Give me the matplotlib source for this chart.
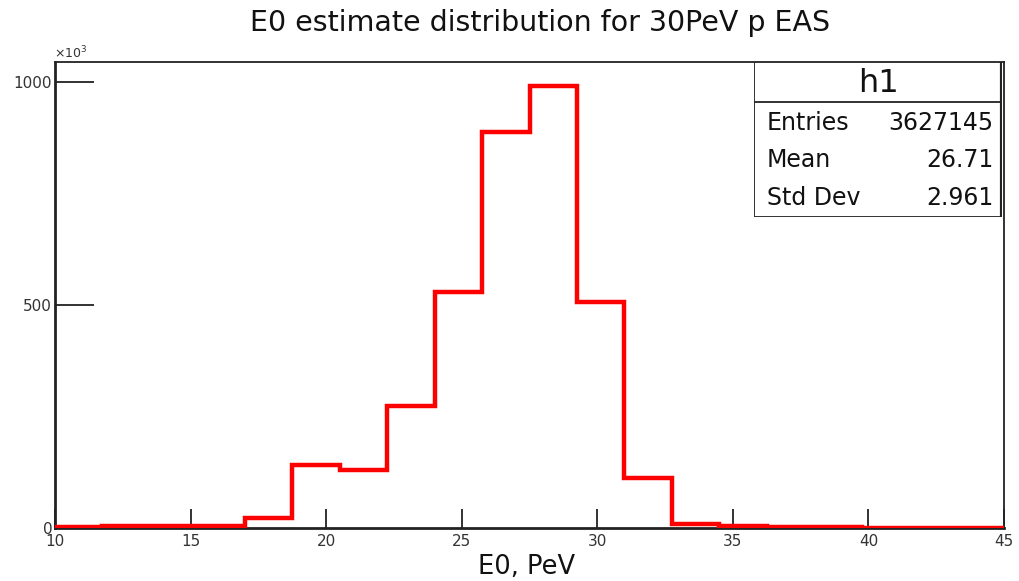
import numpy as np
import matplotlib
matplotlib.use("Agg")
import matplotlib.pyplot as plt
from matplotlib.patches import Rectangle

plt.rcParams['font.family'] = ['DejaVu Sans']

# histogram h1: 20 bins from 10 to 45 PeV, counts in units of 10^3
bin_edges = np.linspace(10, 45, 21)
counts_k = [2, 5, 4, 4, 22, 141, 130, 273, 529, 888,
            991, 507, 112, 9, 4, 2, 2, 1, 0.5, 0.3]
x_ticks = [10, 15, 20, 25, 30, 35, 40, 45]
y_ticks = [0, 500, 1000]
stats_names = ["Entries", "Mean", "Std Dev"]
stats_values = ["3627145", "26.71", "2.961"]

W, H = 1019, 581
fig = plt.figure(figsize=(W / 100, H / 100), dpi=100)

# frame position in pixels
left, right, top, bottom = 55, 1004, 62, 528
ax = fig.add_axes([left / W, 1 - bottom / H, (right - left) / W, (bottom - top) / H])

ax.stairs(counts_k, bin_edges, color='red', lw=3.2, zorder=3)
ax.set_xlim(10, 45)
ax.set_ylim(0, 1045)

for s in ax.spines.values():
    s.set_linewidth(1.3)
    s.set_color('#222222')
ax.spines['left'].set_linewidth(2)
ax.spines['bottom'].set_linewidth(2)

ax.set_xticks(x_ticks)
ax.set_yticks(y_ticks)
ax.tick_params(axis='x', direction='in', length=14, width=1.3, labelsize=11, pad=4, colors='#222222')
ax.tick_params(axis='y', direction='in', length=28, width=1.3, labelsize=11, pad=2, colors='#222222')
ax.tick_params(labelcolor='#333333')

fig.text(54 / W, 1 - 61 / H, r'$\times10^{3}$', fontsize=9, ha='left', va='bottom', color='#333333')

fig.text(540 / W, 1 - 23 / H, "E0 estimate distribution for 30PeV p EAS", fontsize=20.5,
         ha='center', va='center', color='#111111')
fig.text(527 / W, 1 - 567 / H, "E0, PeV", fontsize=18.5, ha='center', va='center', color='#111111')

# stats box
bx0, bx1, by0, by1 = 754, 1002, 62, 217
sax = fig.add_axes([bx0 / W, 1 - by1 / H, (bx1 - bx0) / W, (by1 - by0) / H])
sax.set_xlim(bx0, bx1)
sax.set_ylim(by1, by0)
sax.axis('off')
sax.add_patch(Rectangle((bx0, by0), bx1 - bx0, by1 - by0, facecolor='white',
                        edgecolor='#222222', lw=1.3, zorder=1))
sax.plot([bx1, bx1], [by0, by1], color='#222222', lw=3, solid_capstyle='butt', zorder=2)
sax.plot([bx0, bx1], [102, 102], color='#222222', lw=1.3, zorder=2)
sax.text((bx0 + bx1) / 2, 84, "h1", fontsize=23, ha='center', va='center', color='#111111')
row_y = [123, 160, 198]
for name, val, yy in zip(stats_names, stats_values, row_y):
    sax.text(767, yy, name, fontsize=17, ha='left', va='center', color='#111111')
    sax.text(993, yy, val, fontsize=17, ha='right', va='center', color='#111111')

fig.savefig("out.png", dpi=100)
